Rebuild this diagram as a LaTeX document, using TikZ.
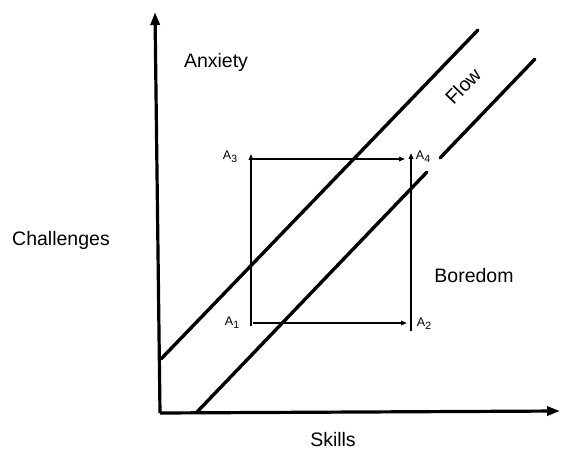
\documentclass[tikz,border=0pt]{standalone}
\usepackage{fontspec}
\setmainfont{Liberation Sans}
\usetikzlibrary{arrows.meta}
\begin{document}
\begin{tikzpicture}[x=1pt,y=-1pt,
  axis/.style={line width=3.2pt,-{Triangle[length=13pt,width=9pt]}},
  flowline/.style={line width=3.4pt,line cap=round},
  move/.style={line width=1.8pt,-{Triangle[length=6pt,width=4.5pt]}},
  lbl/.style={font=\fontsize{19.5}{21}\selectfont,inner sep=0pt},
  alab/.style={font=\fontsize{12.5}{12.5}\selectfont,inner sep=0pt}]
\useasboundingbox (0,0) rectangle (561,454);
% axes
\coordinate (O) at (160,413);
\coordinate (ytip) at (155,12);
\coordinate (xtip) at (560,411);
\draw[axis] (O) -- (ytip);
\draw[axis] (O) -- (xtip);
% flow channel
\coordinate (u1) at (161,359);
\coordinate (u2) at (478,30);
\coordinate (l1) at (197,412);
\coordinate (l2) at (427,172);
\coordinate (l3) at (440,158);
\coordinate (l4) at (535,59);
\draw[flowline] (u1) -- (u2);
\draw[flowline] (l1) -- (l2);
\draw[flowline] (l3) -- (l4);
% rectangle
\coordinate (a1) at (251,323);
\coordinate (a2) at (411,323);
\coordinate (a3) at (251,159);
\coordinate (a4) at (411,159);
\draw[move] ([xshift=2pt]a1) -- ([xshift=-4pt]a2);
\draw[move] ([yshift=-3pt]a1) -- ([yshift=5pt]a3);
\draw[move] ([xshift=2pt]a3) -- ([xshift=-6pt]a4);
\draw[move] ([yshift=-8pt]a2) -- ([yshift=6pt]a4);
% corner labels
\node[alab] (A1) at (232,323) {A\raisebox{-3pt}{\fontsize{10.5}{10.5}\selectfont 1}};
\node[alab] (A2) at (424,324) {A\raisebox{-3pt}{\fontsize{10.5}{10.5}\selectfont 2}};
\node[alab] (A3) at (230,157) {A\raisebox{-3pt}{\fontsize{10.5}{10.5}\selectfont 3}};
\node[alab] (A4) at (423,157) {A\raisebox{-3pt}{\fontsize{10.5}{10.5}\selectfont 4}};
% region labels
\node[lbl] (anx) at (216,62) {Anxiety};
\node[lbl,rotate=46] (flow) at (463,86) {Flow};
\node[lbl] (bor) at (474,276) {Boredom};
\node[lbl] (cha) at (61,240) {Challenges};
\node[lbl] (ski) at (333,440) {Skills};
\end{tikzpicture}
\end{document}
